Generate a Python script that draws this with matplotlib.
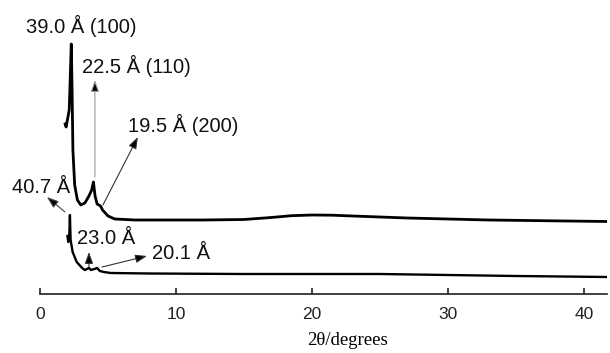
import matplotlib
matplotlib.use('Agg')
import matplotlib.pyplot as plt
import numpy as np

# 2theta (degrees) and intensity (a.u.)
top_2theta = [1.85, 1.92, 2.0, 2.15, 2.22, 2.3, 2.36, 2.42, 2.55, 2.75, 3.0, 3.3, 3.6, 3.8, 3.93,
              4.05, 4.2, 4.45, 4.6, 5.0, 5.5, 7, 10, 12, 15, 17, 18.5, 20, 21.5, 23, 25, 27,
              30, 33, 37, 41.7]
top_int = [170, 167, 173, 184, 214, 250, 204, 144, 109, 94, 89, 91, 98, 104, 112,
           98, 90, 88, 84, 78, 75, 74, 74, 74, 74.5, 76.5, 78.3, 79, 78.8, 78, 77, 76,
           75, 74, 73.3, 72.5]

bot_2theta = [2.02, 2.08, 2.15, 2.2, 2.25, 2.4, 2.7, 3.1, 3.3, 3.6, 3.75, 4.0, 4.2, 4.4, 4.7,
              5.2, 8, 15, 20, 25, 30, 35, 41.7]
bot_int = [58, 52, 56, 79, 54, 42, 32, 26, 24, 26, 24, 25, 26, 23, 22,
           21, 20.5, 20, 20, 20, 19, 18, 17]

# label text, text position (left, baseline), arrow tail, arrow head
labels = ['39.0 Å (100)', '22.5 Å (110)', '19.5 Å (200)', '40.7 Å', '23.0 Å', '20.1 Å']
label_pos = [(-1.03, 261), (3.09, 221), (6.47, 162), (-2.06, 101), (2.72, 50), (8.24, 35)]
arrow_tail = [None, (4.04, 117), (4.63, 89), (1.84, 82), (3.6, 27), (4.56, 27)]
arrow_head = [None, (4.04, 214), (7.2, 157), (0.51, 97), (3.6, 42), (7.87, 38)]
arrow_color = [None, '#9a9a9a', '#333333', '#444444', '#333333', '#333333']

fig = plt.figure(figsize=(6.1, 3.53), dpi=100)
ax = fig.add_axes([40 / 610, 59 / 353, 567 / 610, 294 / 353])

ax.plot(top_2theta, top_int, color='black', lw=2.0, solid_joinstyle='round')
ax.plot(bot_2theta, bot_int, color='black', lw=1.7, solid_joinstyle='round')

for lab, pos, tail, head, col in zip(labels, label_pos, arrow_tail, arrow_head, arrow_color):
    ax.text(pos[0], pos[1], lab, fontsize=14.5, family='Liberation Sans',
            ha='left', va='baseline', color='#111111')
    if tail is not None:
        ax.annotate('', xy=head, xytext=tail,
                    arrowprops=dict(arrowstyle='-|>,head_length=0.7,head_width=0.25',
                                    lw=0.8, ec=col, fc='black',
                                    shrinkA=0, shrinkB=0),
                    annotation_clip=False)

ax.set_xlim(0, 41.7)
ax.set_ylim(0, 294)
for s in ['top', 'left', 'right']:
    ax.spines[s].set_visible(False)
ax.spines['bottom'].set_linewidth(1.2)
ax.spines['bottom'].set_color('#222222')
ax.set_yticks([])
ax.set_xticks([0, 10, 20, 30, 40])
ax.tick_params(axis='x', direction='in', length=4, width=1.2, pad=9.5,
               labelsize=12.5, colors='#222222')
for t in ax.get_xticklabels():
    t.set_family('Liberation Sans')
ax.set_xlabel('2θ/degrees', fontsize=13.5, family='Liberation Serif')
ax.xaxis.set_label_coords(0.542, -0.13)

fig.savefig('out.png', dpi=100)
